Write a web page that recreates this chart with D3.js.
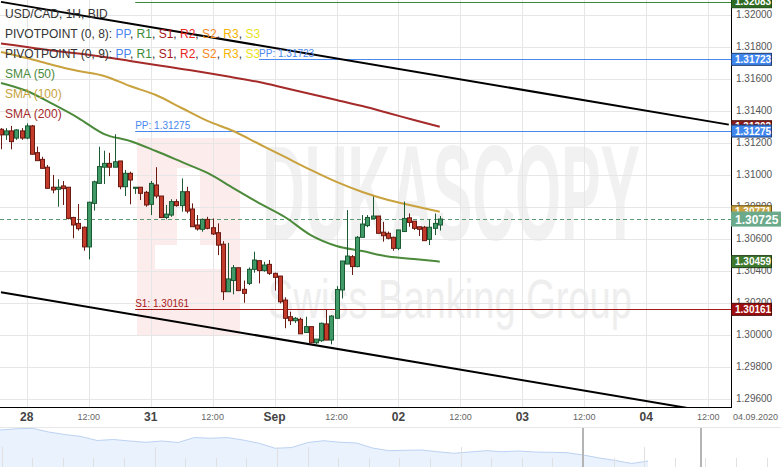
<!DOCTYPE html>
<html><head><meta charset="utf-8">
<script src="https://cdn.jsdelivr.net/npm/d3@7"></script>
<style>body{margin:0;background:#fff;} svg{display:block;font-family:Arial,"Liberation Sans",sans-serif;}</style>
</head><body><svg id="c" width="781" height="467"></svg>
<script>
// ---------------- DATA ----------------
const firstHour = -5; // candle hour index relative to 28 Aug 00:00 (weekend collapsed)
const open = [1.31286,1.31251,1.31276,1.31231,1.31276,1.31231,1.31307,1.31140,1.31098,1.31049,1.30924,1.30911,1.30932,1.30924,1.30735,1.30698,1.30674,1.30551,1.30823,1.30948,1.31049,1.31073,1.31049,1.31088,1.30927,1.31011,1.30917,1.30924,1.30892,1.30817,1.30938,1.30869,1.30735,1.30750,1.30834,1.30809,1.30896,1.30788,1.30688,1.30661,1.30723,1.30671,1.30640,1.30568,1.30271,1.30341,1.30421,1.30286,1.30323,1.30411,1.30465,1.30403,1.30442,1.30386,1.30369,1.30219,1.30115,1.30090,1.30099,1.30016,1.30053,1.29952,1.29965,1.30070,1.29969,1.30105,1.30282,1.30444,1.30490,1.30428,1.30611,1.30684,1.30729,1.30744,1.30643,1.30636,1.30611,1.30542,1.30647,1.30733,1.30712,1.30677,1.30674,1.30598,1.30667,1.30688];
const high = [1.31293,1.31293,1.31307,1.31286,1.31293,1.31323,1.31313,1.31178,1.31114,1.31063,1.31001,1.30974,1.30963,1.30924,1.30739,1.30819,1.30678,1.30834,1.30965,1.31177,1.31152,1.31139,1.31255,1.31088,1.31032,1.31021,1.30924,1.30924,1.30901,1.30963,1.31049,1.30869,1.30813,1.30849,1.30849,1.30979,1.30927,1.30823,1.30750,1.30729,1.30739,1.30729,1.30698,1.30587,1.30576,1.30438,1.30421,1.30341,1.30423,1.30521,1.30465,1.30458,1.30469,1.30390,1.30369,1.30236,1.30146,1.30113,1.30109,1.30115,1.30053,1.29975,1.30078,1.30157,1.30125,1.30306,1.30463,1.30781,1.30500,1.30619,1.30750,1.30750,1.30865,1.30744,1.30708,1.30647,1.30615,1.30657,1.30834,1.30760,1.30712,1.30677,1.30682,1.30723,1.30760,1.30744];
const low = [1.31161,1.31220,1.31161,1.31220,1.31220,1.31224,1.31130,1.31090,1.31042,1.30917,1.30886,1.30802,1.30813,1.30723,1.30605,1.30653,1.30527,1.30473,1.30778,1.30944,1.30944,1.30993,1.31049,1.30911,1.30869,1.30817,1.30882,1.30844,1.30802,1.30750,1.30855,1.30735,1.30723,1.30739,1.30802,1.30771,1.30761,1.30677,1.30653,1.30646,1.30661,1.30626,1.30500,1.30219,1.30271,1.30255,1.30278,1.30202,1.30313,1.30390,1.30323,1.30396,1.30376,1.30278,1.30198,1.30043,1.30063,1.30076,1.30008,1.30016,1.29948,1.29938,1.29958,1.29969,1.29942,1.30105,1.30229,1.30444,1.30376,1.30424,1.30611,1.30674,1.30729,1.30636,1.30584,1.30598,1.30527,1.30531,1.30647,1.30677,1.30657,1.30619,1.30590,1.30563,1.30625,1.30653];
const close = [1.31251,1.31276,1.31209,1.31282,1.31231,1.31307,1.31130,1.31090,1.31042,1.30917,1.30907,1.30924,1.30915,1.30729,1.30688,1.30665,1.30551,1.30830,1.30958,1.31053,1.31073,1.31049,1.31083,1.30927,1.31011,1.30969,1.30924,1.30886,1.30813,1.30948,1.30869,1.30735,1.30756,1.30834,1.30809,1.30896,1.30775,1.30677,1.30663,1.30723,1.30667,1.30632,1.30562,1.30271,1.30351,1.30421,1.30278,1.30261,1.30411,1.30469,1.30403,1.30438,1.30386,1.30361,1.30208,1.30105,1.30090,1.30105,1.30008,1.30053,1.29952,1.29975,1.30074,1.29969,1.30119,1.30285,1.30463,1.30494,1.30428,1.30611,1.30694,1.30735,1.30744,1.30636,1.30621,1.30605,1.30542,1.30657,1.30729,1.30704,1.30667,1.30661,1.30590,1.30674,1.30698,1.30725];

const smaHours = [-5,0,5,10,15,20,25,30,35,40,45,50,55,60,65,70,75,80];
const sma50  = [1.31575,1.31525,1.31444,1.31356,1.31256,1.31213,1.31150,1.31082,1.31013,1.30919,1.30825,1.30738,1.30625,1.30557,1.30525,1.30491,1.30476,1.30459];
const sma100 = [1.31769,1.31731,1.31688,1.31650,1.31619,1.31556,1.31500,1.31419,1.31338,1.31275,1.31194,1.31113,1.31032,1.30957,1.30894,1.30844,1.30807,1.30771];
const sma200 = [1.31822,1.31800,1.31778,1.31759,1.31738,1.31713,1.31688,1.31663,1.31638,1.31610,1.31581,1.31544,1.31506,1.31469,1.31431,1.31388,1.31344,1.31302];

const pivotNames  = ["R1","PP","S1","PP"];
const pivotValues = [1.32083,1.31275,1.30161,1.31723];
const pivotStart  = [21,21,21,45];
const pivotShowLabel = [false,true,true,true];

const trendUpper = [[-5,1.32082],[136,1.31315]];
const trendLower = [[-5,1.30268],[136,1.29501]];

const lastPrice = 1.30725;

const yTicks = [1.296,1.298,1.300,1.302,1.304,1.306,1.308,1.310,1.312,1.314,1.316,1.318,1.320];
const xTickHours  = [0,12,24,36,48,60,72,84,96,108,120,132];
const xTickLabels = ["28","12:00","31","12:00","Sep","12:00","02","12:00","03","12:00","04","12:00"];
const dateLabel = "04.09.2020";

const navValues = [1.3396,1.34056,1.34096,1.3380,1.3360,1.3344,1.3312,1.3320,1.3308,1.32976,1.3308,1.3296,1.3336,1.33296,1.3336,1.3316,1.32896,1.32496,1.3256,1.3296,1.33104,1.32976,1.3292,1.3252,1.32304,1.32336,1.3236,1.32224,1.32096,1.3220,1.32304,1.32224,1.3228,1.3220,1.32176,1.32144,1.3196,1.3172,1.3152,1.3128,1.3148];

const legendTitle = "USD/CAD, 1H, BID";
const pivotLegendNames = ["PIVOTPOINT (0, 8): ","PIVOTPOINT (0, 9): "];
const pivotLegendItems = ["PP","R1","S1","R2","S2","R3","S3"];
const smaLegend = ["SMA (50)","SMA (100)","SMA (200)"];
const watermarkTitle = "DUKASCOPY";
const watermarkSub = "Swiss Banking Group";

// ---------------- STYLE ----------------
const C = {
  grid:"#e6e6e6", up:"#3f9a68", upLine:"#1c5a33", down:"#c23b2b", downLine:"#6a1a12",
  sma50:"#4b8a3b", sma100:"#c9a23e", sma200:"#a52a2a",
  PP:"#4a88ef", R1:"#3a8a3a", S1:"#a81818", R2:"#e8261e", S2:"#f58a1f", R3:"#f5b400", S3:"#ece21a",
  R1tag:"#2f6b22", PPtag:"#3f86ee", S1tag:"#a00f0f", last:"#6aa98a"
};
const plotR = 731, plotB = 407;

const svg = d3.select("#c");
const x = d3.scaleLinear().domain([-5.19,136.42]).range([0,plotR]);
const y = d3.scaleLinear().domain([1.295508,1.320937]).range([plotB,0]);
const fmt = d3.format(".5f");

svg.append("defs").append("clipPath").attr("id","plot")
  .append("rect").attr("x",0).attr("y",0).attr("width",plotR).attr("height",plotB);

// watermark
const wm = svg.append("g");
wm.append("rect").attr("x",137).attr("y",138).attr("width",103).attr("height",197).attr("fill","#fcecec");
wm.append("rect").attr("x",177).attr("y",168).attr("width",23).attr("height",80).attr("fill","#ffffff");
wm.append("rect").attr("x",155).attr("y",245).attr("width",70).attr("height",24).attr("fill","#ffffff");
wm.append("text").attr("transform","translate(262,240) scale(0.435,1)").attr("font-size",136).attr("font-weight","bold")
  .attr("fill","#f1f1f1").text(watermarkTitle);
wm.append("text").attr("transform","translate(268,318) scale(0.68,1)").attr("font-size",56)
  .attr("fill","#eeeeee").text(watermarkSub);

// grid
const grid = svg.append("g");
grid.selectAll(".hg").data(yTicks).join("line")
  .attr("x1",0).attr("x2",plotR).attr("y1",d=>Math.round(y(d))+0.5).attr("y2",d=>Math.round(y(d))+0.5)
  .attr("stroke",C.grid);
grid.selectAll(".vg").data(xTickHours).join("line")
  .attr("y1",0).attr("y2",plotB).attr("x1",d=>Math.round(x(d))+0.5).attr("x2",d=>Math.round(x(d))+0.5)
  .attr("stroke",C.grid);

const plot = svg.append("g").attr("clip-path","url(#plot)");

// pivot lines
pivotValues.forEach((v,i)=>{
  const col = C[pivotNames[i]];
  plot.append("line").attr("x1",x(pivotStart[i])).attr("x2",plotR)
    .attr("y1",Math.round(y(v))+0.5).attr("y2",Math.round(y(v))+0.5).attr("stroke",col).attr("stroke-width",1);
  if (pivotShowLabel[i]) {
    svg.append("text").attr("x",x(pivotStart[i])).attr("y",Math.round(y(v))-2)
      .attr("font-size",10).attr("fill",col).text(pivotNames[i]+": "+fmt(v));
  }
});

// last price dashed line
plot.append("line").attr("x1",0).attr("x2",plotR).attr("y1",Math.round(y(lastPrice))+0.5).attr("y2",Math.round(y(lastPrice))+0.5)
  .attr("stroke","#5b9a70").attr("stroke-dasharray","4,3").attr("stroke-width",1);

// SMA lines
const smaLine = d3.line().x((d,i)=>x(smaHours[i])).y(d=>y(d)).curve(d3.curveMonotoneX);
[[sma200,C.sma200],[sma100,C.sma100],[sma50,C.sma50]].forEach(([s,c])=>{
  plot.append("path").attr("d",smaLine(s)).attr("fill","none").attr("stroke",c).attr("stroke-width",2);
});

// trend lines
[trendUpper,trendLower].forEach(t=>{
  plot.append("line").attr("x1",x(t[0][0])).attr("y1",y(t[0][1])).attr("x2",x(t[1][0])).attr("y2",y(t[1][1]))
    .attr("stroke","#000").attr("stroke-width",2);
});

// candles
const idx = d3.range(open.length);
const cg = plot.append("g");
idx.forEach(i=>{
  const h = firstHour + i;
  const up = close[i] >= open[i];
  const cx = Math.round(x(h)) + 0.5;
  cg.append("line").attr("x1",cx).attr("x2",cx).attr("y1",y(high[i])).attr("y2",y(low[i]))
    .attr("stroke",up?C.upLine:C.downLine).attr("stroke-width",1);
  const top = y(Math.max(open[i],close[i])), bot = y(Math.min(open[i],close[i]));
  cg.append("rect").attr("x",cx-2).attr("width",4).attr("y",top).attr("height",Math.max(1,bot-top))
    .attr("fill",up?C.up:C.down).attr("stroke",up?C.upLine:C.downLine).attr("stroke-width",1);
});

// plot border
svg.append("line").attr("x1",plotR+0.5).attr("x2",plotR+0.5).attr("y1",0).attr("y2",plotB+1).attr("stroke","#000");
svg.append("line").attr("x1",0).attr("x2",plotR+1).attr("y1",plotB+0.5).attr("y2",plotB+0.5).attr("stroke","#000");

// y axis labels
svg.append("g").selectAll("text").data(yTicks).join("text")
  .attr("x",736).attr("y",d=>y(d)+3).attr("font-size",10).attr("fill","#555").text(d=>fmt(d));

// x axis labels
svg.append("g").selectAll("text").data(xTickHours).join("text")
  .attr("x",d=>x(d)).attr("y",(d,i)=>i%2===0?421:420).attr("text-anchor","middle")
  .attr("font-size",(d,i)=>i%2===0?12:9).attr("font-weight",(d,i)=>i%2===0?"bold":"normal")
  .attr("fill",(d,i)=>i%2===0?"#444":"#666").text((d,i)=>xTickLabels[i]);
svg.append("text").attr("x",733).attr("y",420).attr("font-size",9).attr("fill","#666").text(dateLabel);

// right tags
function tag(v, bg, stroke, big) {
  const hgt = big?14:12, w = big?49:40;
  const g = svg.append("g");
  g.append("rect").attr("x",731.5).attr("y",y(v)-hgt/2).attr("width",w).attr("height",hgt)
    .attr("fill",bg).attr("stroke",stroke).attr("stroke-width",1);
  g.append("text").attr("x",735).attr("y",y(v)+(big?4.5:3.6)).attr("font-size",big?12:10)
    .attr("font-weight","bold").attr("fill","#fff").text(fmt(v));
}
tag(pivotValues[0], C.R1tag, "#1d4a14");
tag(pivotValues[3], C.PPtag, "#1f3f70");
tag(sma200[sma200.length-1], "#8c1c1c", "#4a0e0e");
tag(pivotValues[1], C.PPtag, "#1f3f70");
tag(sma100[sma100.length-1], C.sma100, "#6b5318");
tag(lastPrice, C.last, "#6aa98a", true);
tag(sma50[sma50.length-1], "#3f7a2f", "#1e3d16");
tag(pivotValues[2], C.S1tag, "#4a0808");

// legend
const lg = svg.append("g").attr("font-size",12);
lg.append("text").attr("x",5).attr("y",18).attr("fill","#333").text(legendTitle);
pivotLegendNames.forEach((nm,k)=>{
  const t = lg.append("text").attr("x",5).attr("y",38+20*k).attr("fill","#333");
  t.append("tspan").text(nm);
  pivotLegendItems.forEach((it,j)=>{
    t.append("tspan").attr("fill",C[it]).text(it);
    if (j<pivotLegendItems.length-1) t.append("tspan").attr("fill","#333").text(", ");
  });
});
[C.sma50,C.sma100,C.sma200].forEach((c,k)=>{
  lg.append("text").attr("x",5).attr("y",78+20*k).attr("fill",c).text(smaLegend[k]);
});

// navigator
const nav = svg.append("g");
const nx = d3.scaleLinear().domain([0,navValues.length-1]).range([0,648]);
const ny = d3.scaleLinear().domain([1.3100,1.3420]).range([467,427]);
nav.append("line").attr("x1",0).attr("x2",781).attr("y1",427.5).attr("y2",427.5).attr("stroke","#e8e8e8");
nav.append("path").attr("d",d3.area().x((d,i)=>nx(i)).y0(467).y1(d=>ny(d))(navValues))
  .attr("fill","#eaf2fd");
nav.append("path").attr("d",d3.line().x((d,i)=>nx(i)).y(d=>ny(d))(navValues))
  .attr("fill","none").attr("stroke","#bcd2f3").attr("stroke-width",1);
const navTicks = d3.range(-1,25);
const navTall = [-1,4,8,9,14,20];
nav.selectAll(".nt").data(navTicks).join("line")
  .attr("x1",d=>Math.round(32.2+30.6*d)+0.5).attr("x2",d=>Math.round(32.2+30.6*d)+0.5)
  .attr("y1",d=>navTall.includes(d)?447:458).attr("y2",467)
  .attr("stroke","#e0e0e0");
[583,701].forEach(px=>{
  nav.append("rect").attr("x",px-1).attr("y",428).attr("width",2).attr("height",39).attr("fill","#b4b4b4");
});
</script></body></html>
